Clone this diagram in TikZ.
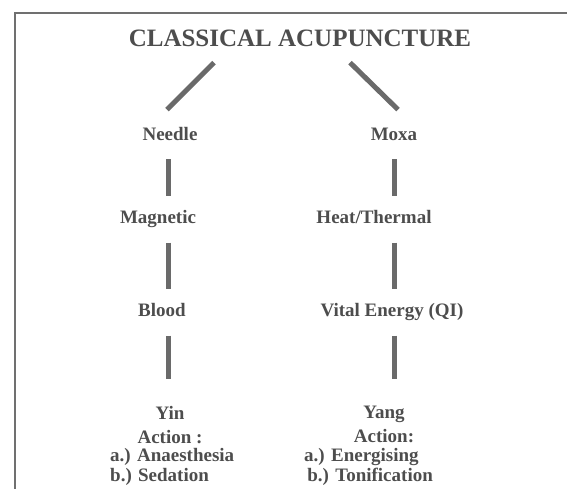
\documentclass[tikz,border=0pt]{standalone}
\usepackage{fontspec}
\setmainfont{Liberation Serif}
\usepackage{tikz}
\usetikzlibrary{positioning,calc}

\definecolor{txtgray}{HTML}{4D4D4D}
\definecolor{bargray}{HTML}{6A6A6A}
\definecolor{framegray}{HTML}{707070}

\begin{document}
\begin{tikzpicture}[
                x=1pt, y=-1pt,
                lbl/.style={font=\fontsize{19}{22}\selectfont\bfseries, text=txtgray, inner sep=0pt, text height=13pt, text depth=4pt, outer ysep=15pt},
                act/.style={font=\fontsize{19}{20}\selectfont\bfseries, text=txtgray, inner sep=0pt, align=left},
                bar/.style={draw=bargray, line width=5pt},
                frame/.style={draw=framegray, line width=2pt},
            ]
            \useasboundingbox (0,0) rectangle (567,489);
            \draw[frame] (15,489) |- (567,13);

            \coordinate (lcol) at (168,0);
            \coordinate (rcol) at (394,0);

            \node[font=\fontsize{25}{28}\selectfont\bfseries, text=txtgray, inner sep=0pt] (title) at (300,38) {CLASSICAL ACUPUNCTURE};
            \node[lbl] (needle) at (170,136) {Needle};
            \node[lbl] (moxa) at (394,136) {Moxa};
            \node[lbl] (magnetic) at (158,219) {Magnetic};
            \node[lbl] (heat) at (374,219) {Heat/Thermal};
            \node[lbl] (blood) at (162,312) {Blood};
            \node[lbl] (vital) at (392,312) {Vital Energy (QI)};
            \node[lbl, align=center, text height=, text depth=, font=\fontsize{19}{24}\selectfont\bfseries, anchor=north, outer ysep=0pt] (yin) at (170,406) {Yin\\Action :};
            \node[lbl, align=center, text height=, text depth=, font=\fontsize{19}{24}\selectfont\bfseries, anchor=north, outer ysep=0pt] (yang) at (384,406) {Yang\\Action:};
            \node[act, anchor=north west] (yinlist) at (110,448) {a.) Anaesthesia\\b.) Sedation};
            \node[act, anchor=north west] (yanglist) at (304,448) {a.) Energising\\\,b.) Tonification};

            \draw[bar] (title.south) ++(-86,16) -- ++(-47,47);
            \draw[bar] (title.south) ++(50,16) -- ++(48,47);
            \draw[bar] (needle.south -| lcol) -- (magnetic.north -| lcol);
            \draw[bar] (magnetic.south -| lcol) -- (blood.north -| lcol);
            \draw[bar] (blood.south -| lcol) -- ([yshift=27pt]yin.north -| lcol);
            \draw[bar] (moxa.south -| rcol) -- (heat.north -| rcol);
            \draw[bar] (heat.south -| rcol) -- (vital.north -| rcol);
            \draw[bar] (vital.south -| rcol) -- ([yshift=27pt]yang.north -| rcol);
        \end{tikzpicture}
\end{document}
